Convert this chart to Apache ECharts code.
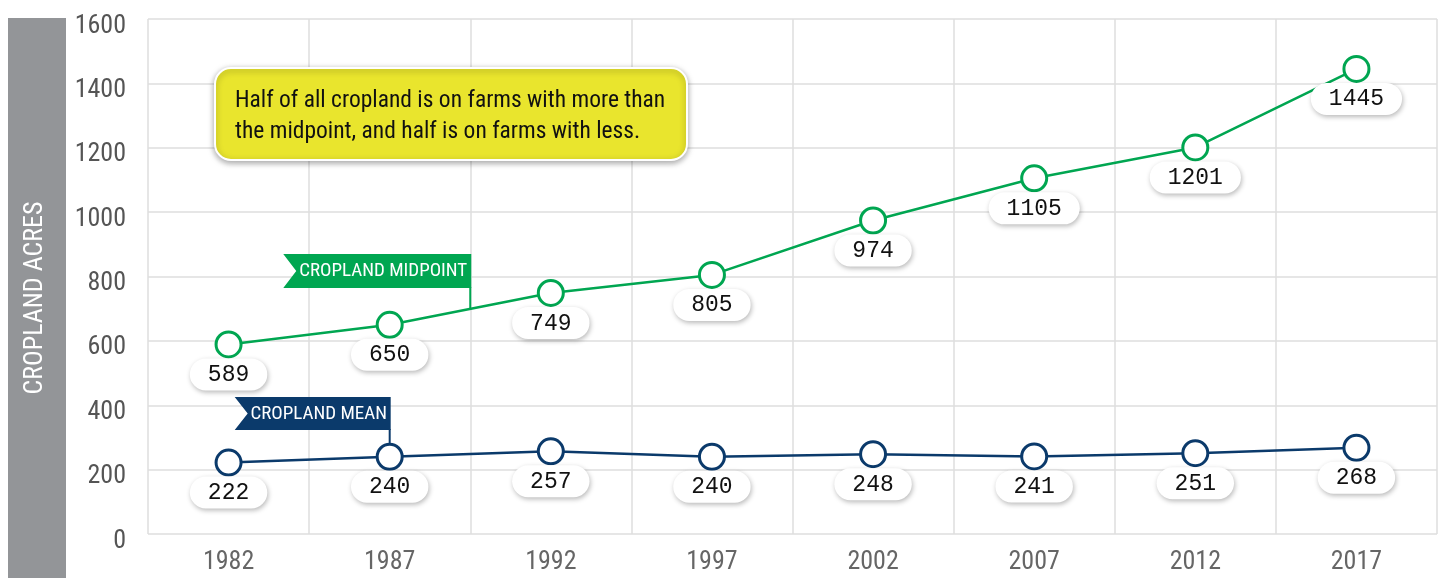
<!DOCTYPE html>
<html><head><meta charset="utf-8">
<script src="https://cdn.jsdelivr.net/npm/echarts@6/dist/echarts.min.js"></script>
<style>html,body{margin:0;padding:0;background:#fff}#c{width:1443px;height:578px}</style>
</head><body><div id="c"></div>
<script>
const years = ['1982', '1987', '1992', '1997', '2002', '2007', '2012', '2017'];
const midpoint = [589, 650, 749, 805, 974, 1105, 1201, 1445];
const mean = [222, 240, 257, 240, 248, 241, 251, 268];
const yMin = 0, yMax = 1600, yStep = 200;
const seriesNames = ['CROPLAND MIDPOINT', 'CROPLAND MEAN'];
const yAxisTitle = 'CROPLAND ACRES';
const noteLines = ['Half of all cropland is on farms with more than', 'the midpoint, and half is on farms with less.'];

const GREEN = '#00a651', NAVY = '#0b3a6b';
const COND = '"Roboto Condensed","Roboto",sans-serif';
const MONO = '"Liberation Mono","DejaVu Sans Mono",monospace';

const chart = echarts.init(document.getElementById('c'), null, {renderer: 'canvas'});

function labelStyle() {
  return {
    show: true, position: 'bottom', distance: 0,
    color: '#111', fontFamily: MONO, fontSize: 23,
    backgroundColor: '#fff', borderRadius: 17, padding: [5, 18, 4, 18],
    shadowBlur: 5, shadowColor: 'rgba(0,0,0,0.28)', shadowOffsetX: 1, shadowOffsetY: 2
  };
}

function mkSeries(name, data, color) {
  return {
    name, type: 'line', data, symbol: 'circle', symbolSize: 25,
    lineStyle: {color, width: 2.5},
    itemStyle: {color: '#fff', borderColor: color, borderWidth: 3},
    label: labelStyle(), z: 3, emphasis: {disabled: true}, animation: false
  };
}

chart.setOption({
  animation: false,
  grid: {left: 148, right: 6, top: 19, bottom: 44},
  xAxis: {
    type: 'category', data: years, boundaryGap: true,
    axisLine: {show: false}, axisTick: {show: false},
    axisLabel: {color: '#666', fontFamily: COND, fontSize: 26, margin: 15},
    splitLine: {show: true, lineStyle: {color: '#dedede', width: 1.5}}
  },
  yAxis: {
    type: 'value', min: yMin, max: yMax, interval: yStep,
    axisLine: {show: false}, axisTick: {show: false},
    axisLabel: {color: '#555', fontFamily: COND, fontSize: 26, margin: 22,
      verticalAlign: 'top', lineHeight: 14, formatter: v => String(v)},
    splitLine: {show: true, lineStyle: {color: '#dedede', width: 1.5}}
  },
  series: [mkSeries(seriesNames[0], midpoint, GREEN), mkSeries(seriesNames[1], mean, NAVY)]
});

// annotation graphics, connectors anchored via the chart's scales
const p87m = chart.convertToPixel({seriesIndex: 0}, [1, midpoint[1]]);
const p92m = chart.convertToPixel({seriesIndex: 0}, [2, midpoint[2]]);
const bx = (p87m[0] + p92m[0]) / 2;
const by = (p87m[1] + p92m[1]) / 2;
const p87n = chart.convertToPixel({seriesIndex: 1}, [1, mean[1]]);

chart.setOption({
  graphic: [
    {type: 'rect', shape: {x: 8, y: 18, width: 58, height: 560}, style: {fill: '#939598'}, z: 1},
    {type: 'text', x: 35, y: 298, rotation: Math.PI / 2, z: 2,
      style: {text: yAxisTitle, fill: '#fff', font: '26px ' + COND, align: 'center', verticalAlign: 'middle'}},
    // note box
    {type: 'rect', shape: {x: 215, y: 68, width: 472, height: 92, r: 16},
      style: {fill: '#e9e52d', stroke: '#fff', lineWidth: 2, shadowBlur: 6, shadowColor: 'rgba(0,0,0,0.35)', shadowOffsetY: 2}, z: 10},
    {type: 'text', x: 235, y: 101, z: 11,
      style: {text: noteLines[0], fill: '#111', font: '23.5px ' + COND, verticalAlign: 'middle'}},
    {type: 'text', x: 235, y: 132, z: 11,
      style: {text: noteLines[1], fill: '#111', font: '23.5px ' + COND, verticalAlign: 'middle'}},
    // midpoint flag
    {type: 'line', shape: {x1: bx, y1: 287, x2: bx, y2: by}, style: {stroke: GREEN, lineWidth: 2}, z: 10},
    {type: 'polygon', shape: {points: [[bx - 187, 254], [bx + 1, 254], [bx + 1, 288], [bx - 187, 288], [bx - 174, 271]]},
      style: {fill: GREEN}, z: 10},
    {type: 'text', x: bx - 87, y: 271.5, z: 11,
      style: {text: seriesNames[0], fill: '#fff', font: '19px ' + COND, align: 'center', verticalAlign: 'middle'}},
    // mean flag
    {type: 'line', shape: {x1: p87n[0], y1: 429, x2: p87n[0], y2: p87n[1] - 12}, style: {stroke: NAVY, lineWidth: 2}, z: 10},
    {type: 'polygon', shape: {points: [[p87n[0] - 155, 397], [p87n[0] + 1, 397], [p87n[0] + 1, 430], [p87n[0] - 155, 430], [p87n[0] - 142, 413.5]]},
      style: {fill: NAVY}, z: 10},
    {type: 'text', x: p87n[0] - 71, y: 414, z: 11,
      style: {text: seriesNames[1], fill: '#fff', font: '19px ' + COND, align: 'center', verticalAlign: 'middle'}}
  ]
});
</script></body></html>
